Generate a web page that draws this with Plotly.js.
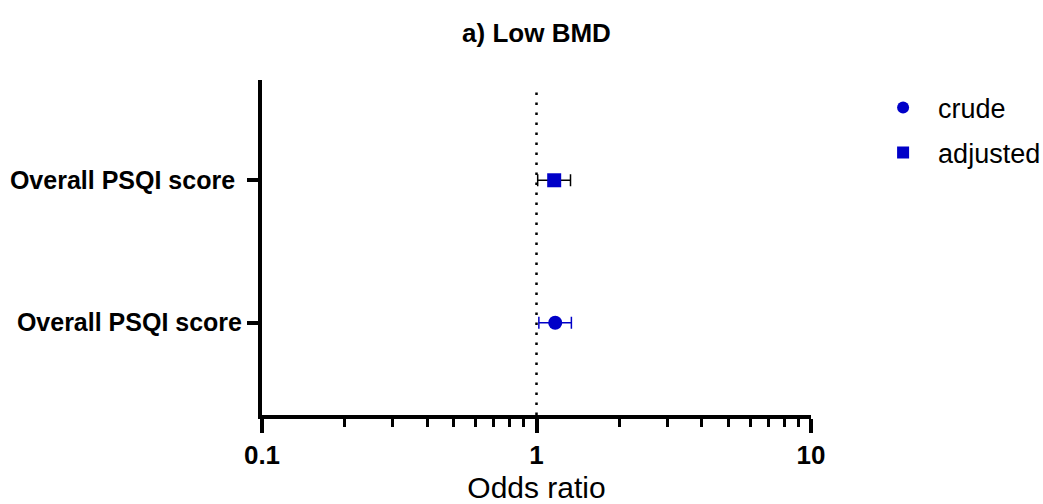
<!DOCTYPE html>
<html><head><meta charset="utf-8">
<script src="https://cdn.plot.ly/plotly-3.0.1.min.js"></script>
<style>html,body{margin:0;padding:0;background:#fff}#chart{width:1043px;height:504px}</style>
</head><body><div id="chart"></div>
<script>
const seriesNames = ["crude", "adjusted"];
const rowLabels = ["Overall PSQI score", "Overall PSQI score"];
const rowPositions = [1, 2];
const oddsRatios = [1.17, 1.16];
const ciLower = [1.02, 1.01];
const ciUpper = [1.34, 1.33];
const markerSymbols = ["circle", "square"];
const errorColors = ["#0000C8", "#000000"];
const refLine = 1;
const majorTicks = [0.1, 1, 10];
const majorTickText = ["0.1", "1", "10"];
const minorTicks = [0.2,0.3,0.4,0.5,0.6,0.7,0.8,0.9,2,3,4,5,6,7,8,9];

const FONT = "'Liberation Sans', Arial, sans-serif";
const blue = "#0000C8";
const traces = seriesNames.map((name, i) => ({
  type: "scatter", mode: "markers", name: name, legendgroup: name,
  x: [oddsRatios[i]], y: [rowPositions[i]],
  marker: {symbol: markerSymbols[i], size: 14, color: blue},
  error_x: {type: "data", symmetric: false,
    array: [ciUpper[i] - oddsRatios[i]], arrayminus: [oddsRatios[i] - ciLower[i]],
    color: errorColors[i], thickness: 1.5, width: 6},
  cliponaxis: false
}));

const layout = {
  width: 1043, height: 504,
  margin: {l: 262, r: 232, t: 80, b: 89, autoexpand: false},
  paper_bgcolor: "#fff", plot_bgcolor: "#fff",
  font: {family: FONT, color: "#000"},
  title: {text: "<b>a) Low BMD</b>", font: {size: 26, color: "#000", family: FONT}, x: 0.5, xref: "paper", y: 0.935, yref: "container", yanchor: "middle"},
  showlegend: true,
  legend: {x: 1.104, xanchor: "left", y: 0.99, yanchor: "top", font: {size: 27, color: "#000", family: FONT},
    tracegroupgap: 7, itemwidth: 60, itemsizing: "constant", bgcolor: "rgba(0,0,0,0)"},
  xaxis: {type: "log", range: [-1, 1], showgrid: false, zeroline: false,
    showline: true, linecolor: "#000", linewidth: 4,
    ticks: "outside", ticklen: 14, tickwidth: 4, tickcolor: "#000",
    tickmode: "array", tickvals: majorTicks, ticktext: majorTickText,
    tickfont: {size: 26, color: "#000", family: FONT, weight: "bold"},
    minor: {tickmode: "array", tickvals: minorTicks, ticks: "outside", ticklen: 8, tickwidth: 3, tickcolor: "#000", showgrid: false},
    title: {text: "Odds ratio", font: {size: 30, color: "#000", family: FONT}, standoff: 18}
  },
  yaxis: {range: [0.352, 2.704], showgrid: false, zeroline: false,
    showline: true, linecolor: "#000", linewidth: 4,
    ticks: "outside", ticklen: 11, tickwidth: 4, tickcolor: "#000",
    tickmode: "array", tickvals: rowPositions,
    ticktext: rowLabels.map((l, i) => i === 1 ? l + "\u00a0" : l),
    tickfont: {size: 25, color: "#000", family: FONT, weight: "bold"}
  },
  shapes: [{type: "line", xref: "x", yref: "paper", x0: refLine, x1: refLine, y0: 0, y1: 0.985,
    line: {color: "#000", width: 2.5, dash: "2.5px,7.5px"}, layer: "below"}]
};
Plotly.newPlot("chart", traces, layout, {displayModeBar: false, staticPlot: true});
</script></body></html>
